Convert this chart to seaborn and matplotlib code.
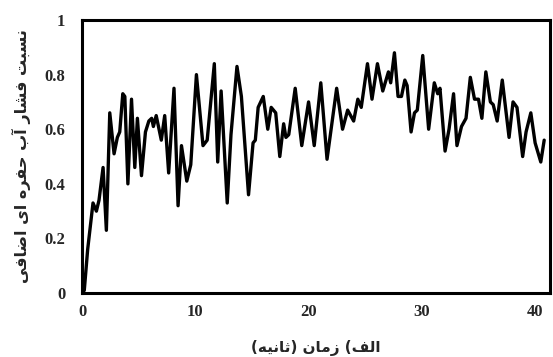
import numpy as np
import pandas as pd
import matplotlib
matplotlib.use("Agg")
import matplotlib.pyplot as plt
import seaborn as sns

# Time (s) and excess pore water pressure ratio
time_s = [
    0.0, 0.2, 0.5, 0.97, 1.27, 1.5, 1.86, 2.15, 2.45, 2.83, 3.12, 3.33, 3.6, 3.78,
    4.05, 4.37, 4.66, 4.89, 5.25, 5.6, 5.9, 6.15, 6.3, 6.55, 7.0, 7.3, 7.65, 8.12,
    8.48, 8.78, 9.25, 9.6, 10.1, 10.68, 11.05, 11.68, 11.98, 12.28, 12.82, 13.15,
    13.68, 14.07, 14.7, 15.1, 15.3, 15.55, 16.0, 16.4, 16.7, 17.1, 17.46, 17.8,
    18.0, 18.25, 18.82, 19.4, 20.0, 20.5, 21.08, 21.63, 22.48, 23.0, 23.45, 23.98,
    24.35, 24.65, 25.2, 25.6, 26.08, 26.55, 27.05, 27.25, 27.58, 27.9, 28.2, 28.5,
    28.7, 29.05, 29.35, 29.6, 30.08, 30.6, 31.1, 31.4, 31.6, 32.05, 32.4, 32.8,
    33.1, 33.5, 33.9, 34.28, 34.65, 35.0, 35.3, 35.65, 36.05, 36.3, 36.65, 37.1,
    37.7, 38.05, 38.4, 38.9, 39.2, 39.62, 40.0, 40.5, 40.8,
]
pore_ratio = [
    0.0, 0.01, 0.16, 0.33, 0.30, 0.34, 0.46, 0.23, 0.66, 0.51, 0.57, 0.59, 0.73, 0.72,
    0.40, 0.71, 0.46, 0.64, 0.43, 0.59, 0.63, 0.64, 0.61, 0.65, 0.56, 0.65, 0.44, 0.75,
    0.32, 0.54, 0.41, 0.47, 0.80, 0.54, 0.56, 0.84, 0.48, 0.74, 0.33, 0.58,
    0.83, 0.72, 0.36, 0.55, 0.56, 0.68, 0.72, 0.60, 0.68, 0.66, 0.50, 0.62,
    0.57, 0.58, 0.75, 0.54, 0.70, 0.54, 0.77, 0.49, 0.75, 0.60, 0.67, 0.63,
    0.71, 0.68, 0.84, 0.71, 0.84, 0.74, 0.81, 0.77, 0.88, 0.72, 0.72, 0.78,
    0.76, 0.59, 0.66, 0.67, 0.87, 0.60, 0.77, 0.73, 0.75, 0.52, 0.60, 0.73,
    0.54, 0.61, 0.64, 0.79, 0.71, 0.71, 0.64, 0.81, 0.70, 0.69, 0.63, 0.78,
    0.57, 0.70, 0.68, 0.50, 0.59, 0.66, 0.55, 0.48, 0.56,
]

x_ticks = [0, 10, 20, 30, 40]
x_tick_labels = ["0", "10", "20", "30", "40"]
y_ticks = [0, 0.2, 0.4, 0.6, 0.8, 1.0]
y_tick_labels = ["0", "0.2", "0.4", "0.6", "0.8", "1"]

x_label = "الف) زمان (ثانیه)"
y_label = "نسبت فشار آب حفره ای اضافی"

# Minimal Arabic-script shaping: contextual presentation forms + RTL order
FORMS = {
    "ا": ("\uFE8D", "\uFE8E", None, None),
    "آ": ("\uFE81", "\uFE82", None, None),
    "ب": ("\uFE8F", "\uFE90", "\uFE91", "\uFE92"),
    "ت": ("\uFE95", "\uFE96", "\uFE97", "\uFE98"),
    "ث": ("\uFE99", "\uFE9A", "\uFE9B", "\uFE9C"),
    "ح": ("\uFEA1", "\uFEA2", "\uFEA3", "\uFEA4"),
    "ر": ("\uFEAD", "\uFEAE", None, None),
    "ز": ("\uFEAF", "\uFEB0", None, None),
    "س": ("\uFEB1", "\uFEB2", "\uFEB3", "\uFEB4"),
    "ش": ("\uFEB5", "\uFEB6", "\uFEB7", "\uFEB8"),
    "ض": ("\uFEBD", "\uFEBE", "\uFEBF", "\uFEC0"),
    "ف": ("\uFED1", "\uFED2", "\uFED3", "\uFED4"),
    "ق": ("\uFED5", "\uFED6", "\uFED7", "\uFED8"),
    "ل": ("\uFEDD", "\uFEDE", "\uFEDF", "\uFEE0"),
    "م": ("\uFEE1", "\uFEE2", "\uFEE3", "\uFEE4"),
    "ن": ("\uFEE5", "\uFEE6", "\uFEE7", "\uFEE8"),
    "ه": ("\uFEE9", "\uFEEA", "\uFEEB", "\uFEEC"),
    "ی": ("\uFEEF", "\uFEF0", "\uFEF3", "\uFEF4"),
}


def shape_rtl(text):
    out = []
    for i, ch in enumerate(text):
        if ch not in FORMS:
            out.append(ch)
            continue
        prev = text[i - 1] if i > 0 else ""
        nxt = text[i + 1] if i + 1 < len(text) else ""
        join_prev = prev in FORMS and FORMS[prev][2] is not None
        join_next = FORMS[ch][2] is not None and nxt in FORMS
        iso, fin, ini, med = FORMS[ch]
        if join_prev and join_next:
            out.append(med)
        elif join_prev:
            out.append(fin)
        elif join_next:
            out.append(ini)
        else:
            out.append(iso)
    visual = "".join(out)[::-1]
    return visual.translate(str.maketrans("()", ")("))


sns.set_theme(style="white")
plt.rcParams["font.family"] = ["DejaVu Sans"]

df = pd.DataFrame({"time": time_s, "ratio": pore_ratio})

fig = plt.figure(figsize=(5.53, 3.57), dpi=100)
ax = fig.add_axes([0.1483, 0.179, 0.846, 0.765])

sns.lineplot(data=df, x="time", y="ratio", ax=ax, color="black", linewidth=2.4,
             solid_joinstyle="round", solid_capstyle="round")

ax.set_xlim(0, 41.3)
ax.set_ylim(0, 1)
ax.set_xticks(x_ticks)
ax.set_xticklabels(x_tick_labels)
ax.set_yticks(y_ticks)
ax.set_yticklabels(y_tick_labels)

for lab in ax.get_xticklabels() + ax.get_yticklabels():
    lab.set_fontfamily("Liberation Serif")
    lab.set_fontweight("bold")
    lab.set_fontsize(12)
ax.tick_params(axis="x", length=0, pad=8)
ax.tick_params(axis="y", length=0, pad=12)

for sp in ax.spines.values():
    sp.set_visible(True)
    sp.set_color("black")
    sp.set_linewidth(2.2)

ax.set_xlabel(shape_rtl(x_label), fontsize=11, fontweight="bold",
              family=["DejaVu Sans"], labelpad=14)
ax.set_ylabel(shape_rtl(y_label), fontsize=11.5, fontweight="bold",
              family=["DejaVu Sans"], labelpad=10)

fig.savefig("out.png", dpi=100, facecolor="white")
